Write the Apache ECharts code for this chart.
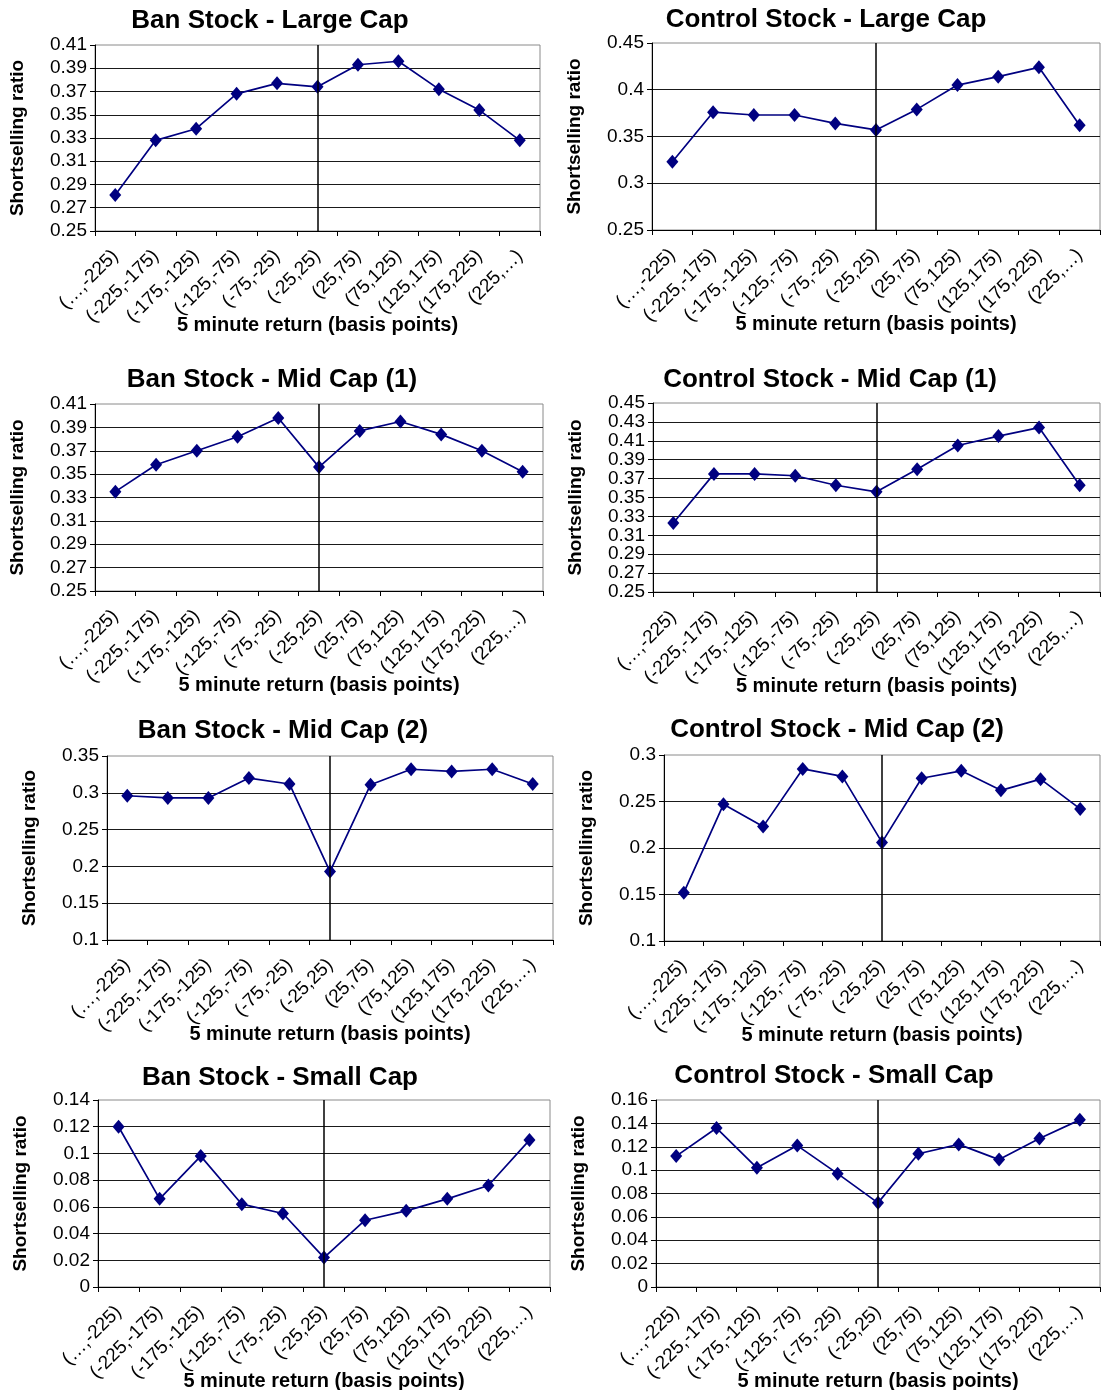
<!DOCTYPE html>
<html>
<head>
<meta charset="utf-8">
<script src="https://cdn.jsdelivr.net/npm/echarts@6/dist/echarts.min.js"></script>
<style>
html,body{margin:0;padding:0;background:#fff;}
#chart{width:1102px;height:1390px;}
</style>
</head>
<body>
<div id="chart"></div>
<script>
const categories = ['(…,-225)','(-225,-175)','(-175,-125)','(-125,-75)','(-75,-25)','(-25,25)','(25,75)','(75,125)','(125,175)','(175,225)','(225,…)'];
const zeroBin = '(-25,25)';

const banLarge  = [0.281,0.328,0.338,0.368,0.377,0.374,0.393,0.396,0.372,0.354,0.328];
const ctrlLarge = [0.323,0.376,0.373,0.373,0.364,0.357,0.379,0.405,0.414,0.424,0.362];
const banMid1   = [0.335,0.358,0.370,0.382,0.398,0.356,0.387,0.395,0.384,0.370,0.352];
const ctrlMid1  = [0.323,0.375,0.375,0.373,0.363,0.356,0.380,0.405,0.415,0.424,0.363];
const banMid2   = [0.296,0.293,0.293,0.320,0.312,0.193,0.311,0.332,0.329,0.332,0.312];
const ctrlMid2  = [0.152,0.247,0.223,0.285,0.277,0.206,0.275,0.283,0.262,0.274,0.242];
const banSmall  = [0.120,0.066,0.098,0.062,0.055,0.022,0.050,0.057,0.066,0.076,0.110];
const ctrlSmall = [0.112,0.136,0.102,0.121,0.097,0.072,0.114,0.122,0.109,0.127,0.143];

const ticksBanLarge  = [0.25,0.27,0.29,0.31,0.33,0.35,0.37,0.39,0.41];
const ticksCtrlLarge = [0.25,0.3,0.35,0.4,0.45];
const ticksBanMid1   = [0.25,0.27,0.29,0.31,0.33,0.35,0.37,0.39,0.41];
const ticksCtrlMid1  = [0.25,0.27,0.29,0.31,0.33,0.35,0.37,0.39,0.41,0.43,0.45];
const ticksBanMid2   = [0.1,0.15,0.2,0.25,0.3,0.35];
const ticksCtrlMid2  = [0.1,0.15,0.2,0.25,0.3];
const ticksBanSmall  = [0,0.02,0.04,0.06,0.08,0.1,0.12,0.14];
const ticksCtrlSmall = [0,0.02,0.04,0.06,0.08,0.1,0.12,0.14,0.16];

const titles = ['Ban Stock - Large Cap','Control Stock - Large Cap','Ban Stock - Mid Cap (1)','Control Stock - Mid Cap (1)',
                'Ban Stock - Mid Cap (2)','Control Stock - Mid Cap (2)','Ban Stock - Small Cap','Control Stock - Small Cap'];
const yName = 'Shortselling ratio';
const xName = '5 minute return (basis points)';

const seriesData = [banLarge, ctrlLarge, banMid1, ctrlMid1, banMid2, ctrlMid2, banSmall, ctrlSmall];
const tickSets = [ticksBanLarge, ticksCtrlLarge, ticksBanMid1, ticksCtrlMid1, ticksBanMid2, ticksCtrlMid2, ticksBanSmall, ticksCtrlSmall];

// layout (pixels): grid boxes and title centres
const gridBoxes = [
  {l:95,  t:45,   r:540,  b:231},
  {l:652, t:43,   r:1100, b:230},
  {l:95,  t:404,  r:543,  b:591},
  {l:653, t:403,  r:1100, b:592},
  {l:107, t:756,  r:553,  b:940},
  {l:664, t:755,  r:1100, b:941},
  {l:98,  t:1100, r:550,  b:1287},
  {l:656, t:1100, r:1100, b:1287}
];
const titlePos = [[265,17],[821,16],[267,376],[825,376],[278,727],[832,726],[275,1074],[829,1072]];

const FONT = 'Arial, "Liberation Sans", sans-serif';

const option = {
  animation: false,
  backgroundColor: '#fff',
  title: [], grid: [], xAxis: [], yAxis: [], series: []
};

for (let i = 0; i < 8; i++) {
  const g = gridBoxes[i];
  const ticks = tickSets[i];
  option.title.push({
    text: titles[i], left: titlePos[i][0], top: titlePos[i][1] - 14, textAlign: 'center',
    textStyle: {fontFamily: FONT, fontSize: 26, fontWeight: 'bold', color: '#000'}
  });
  option.grid.push({
    left: g.l, top: g.t, width: g.r - g.l, height: g.b - g.t,
    show: true, borderColor: '#8a8a8a', borderWidth: 1, backgroundColor: 'transparent',
    containLabel: false, outerBoundsMode: 'none'
  });
  option.xAxis.push({
    type: 'category', gridIndex: i, data: categories, boundaryGap: true,
    name: xName, nameLocation: 'middle', nameGap: 84, nameMoveOverlap: false,
    nameTextStyle: {fontFamily: FONT, fontSize: 20, fontWeight: 'bold', color: '#000'},
    axisLine: {lineStyle: {color: '#000', width: 1}},
    axisTick: {show: true, interval: 0, length: 5, lineStyle: {color: '#000'}},
    axisLabel: {interval: 0, rotate: 45, margin: 22, fontFamily: FONT, fontSize: 19, color: '#000'},
    splitLine: {show: false}
  });
  option.yAxis.push({
    type: 'value', gridIndex: i, min: ticks[0], max: ticks[ticks.length - 1],
    name: yName, nameLocation: 'middle', nameGap: 68, nameMoveOverlap: false,
    nameTextStyle: {fontFamily: FONT, fontSize: 19, fontWeight: 'bold', color: '#000'},
    axisLine: {show: true, lineStyle: {color: '#000', width: 1}},
    axisTick: {show: true, length: 5, customValues: ticks, lineStyle: {color: '#000'}},
    axisLabel: {customValues: ticks, margin: 8, fontFamily: FONT, fontSize: 19, color: '#000'},
    splitLine: {show: true, showMaxLine: false, lineStyle: {color: '#1a1a1a', width: 1}}
  });
  option.series.push({
    type: 'line', xAxisIndex: i, yAxisIndex: i, data: seriesData[i],
    symbol: 'diamond', symbolSize: [12, 14], showAllSymbol: true,
    lineStyle: {color: '#000080', width: 1.7},
    itemStyle: {color: '#000080'},
    z: 3,
    markLine: {
      silent: true, symbol: ['none','none'], label: {show: false},
      lineStyle: {color: '#000', width: 1.5, type: 'solid'},
      data: [{xAxis: zeroBin}]
    }
  });
}

const chart = echarts.init(document.getElementById('chart'), null, {renderer: 'canvas'});
chart.setOption(option);
</script>
</body>
</html>
